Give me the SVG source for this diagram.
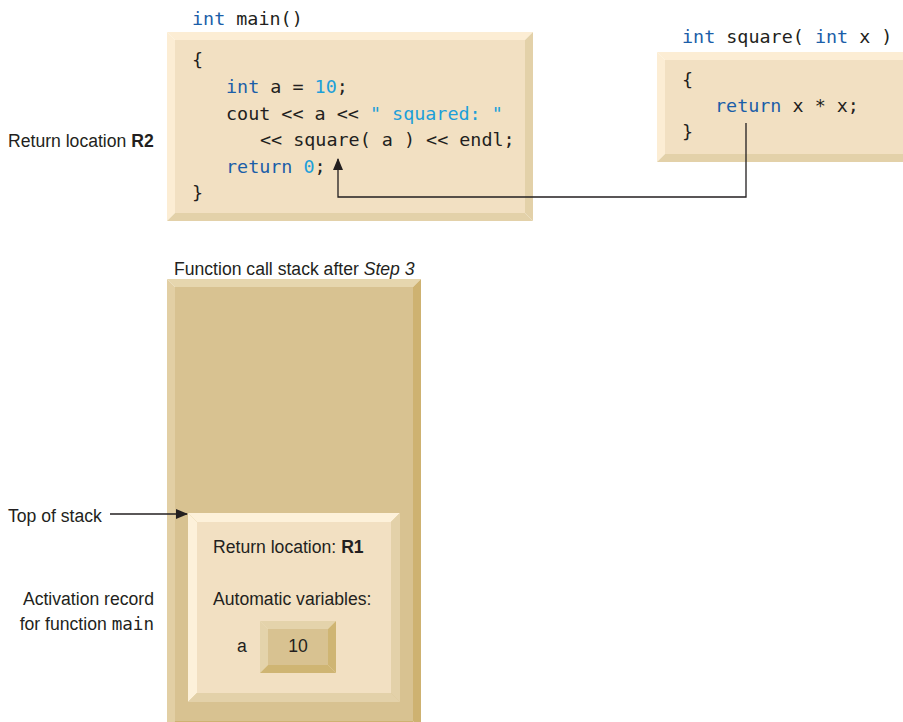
<svg xmlns="http://www.w3.org/2000/svg" width="903" height="722" viewBox="0 0 903 722">
<style>
.mono{font-family:"DejaVu Sans Mono","Liberation Mono",monospace;font-size:18.4px;fill:#231f20}
.kw{fill:#1b5ea8}
.lit{fill:#1d9fd9}
.lbl{font-family:"Liberation Sans",Arial,sans-serif;font-size:17.6px;fill:#231f20}
.lt{fill:#fcedd4}.fc{fill:#f2e0c2}.dk{fill:#e3d1a9}
.slt{fill:#e6d6ae}.sl2{fill:#e2cfa4}.sfc{fill:#d8c291}.sdk{fill:#ceb271}
.conn{fill:none;stroke:#231f20;stroke-width:1.3}
</style>
<defs>
<marker id="ah" markerWidth="12" markerHeight="10" refX="11" refY="5" orient="auto" markerUnits="userSpaceOnUse">
<path d="M0,0 L12,5 L0,10 z" fill="#231f20"/>
</marker>
</defs>
<rect width="903" height="722" fill="#ffffff"/>

<g id="main-box">
<polygon class="lt" points="167,32 533,32 525,40 175,40"/>
<polygon class="lt" points="167,32 175,40 175,213 167,221"/>
<polygon class="dk" points="533,32 533,221 525,213 525,40"/>
<polygon class="dk" points="167,221 533,221 525,213 175,213"/>
<rect class="fc" x="175" y="40" width="350" height="173"/>
<text class="mono" x="192" y="25"><tspan class="kw">int</tspan> main()</text>
<text class="mono" x="192" y="66">{</text>
<text class="mono" x="226" y="93"><tspan class="kw">int</tspan> a = <tspan class="lit">10</tspan>;</text>
<text class="mono" x="226" y="119.5">cout &lt;&lt; a &lt;&lt; <tspan class="lit">" squared: "</tspan></text>
<text class="mono" x="260" y="146">&lt;&lt; square( a ) &lt;&lt; endl;</text>
<text class="mono" x="226" y="172.5"><tspan class="kw">return</tspan> <tspan class="lit">0</tspan>;</text>
<text class="mono" x="192" y="199">}</text>
</g>

<g id="square-box">
<polygon class="lt" points="657,52 915,52 907,60 665,60"/>
<polygon class="lt" points="657,52 665,60 665,154 657,162"/>
<polygon class="dk" points="657,162 915,162 907,154 665,154"/>
<rect class="fc" x="665" y="60" width="250" height="94"/>
<text class="mono" x="682" y="43"><tspan class="kw">int</tspan> square( <tspan class="kw">int</tspan> x )</text>
<text class="mono" x="682" y="86">{</text>
<text class="mono" x="715" y="112"><tspan class="kw">return</tspan> x * x;</text>
<text class="mono" x="682" y="138">}</text>
</g>

<g id="label-r2">
<text class="lbl" x="8" y="147">Return location <tspan font-weight="bold">R2</tspan></text>
</g>

<g id="stack">
<text class="lbl" x="174" y="275">Function call stack after <tspan font-style="italic">Step 3</tspan></text>
<polygon class="slt" points="167,279 421,279 413,287 175,287"/>
<polygon class="sl2" points="167,279 175,287 175,721 167,729"/>
<polygon class="sdk" points="421,279 421,729 413,721 413,287"/>
<polygon class="sdk" points="167,729 421,729 413,721 175,721"/>
<rect class="sfc" x="175" y="287" width="238" height="434"/>
</g>

<g id="activation-record">
<polygon fill="#fdf1da" points="188,513 400,513 391,522 197,522"/>
<polygon fill="#fdf1da" points="188,513 197,522 197,693 188,702"/>
<polygon class="dk" points="400,513 400,702 391,693 391,522"/>
<polygon class="dk" points="188,702 400,702 391,693 197,693"/>
<rect class="fc" x="197" y="522" width="194" height="171"/>
<text class="lbl" x="213" y="553">Return location: <tspan font-weight="bold">R1</tspan></text>
<text class="lbl" x="213" y="605">Automatic variables:</text>
<text class="lbl" x="237" y="652">a</text>
</g>

<g id="var-a">
<polygon fill="#e4d3ab" points="260,621 336,621 328,629 268,629"/>
<polygon fill="#e4d3ab" points="260,621 268,629 268,665 260,673"/>
<polygon fill="#cfb573" points="336,621 336,673 328,665 328,629"/>
<polygon fill="#cfb573" points="260,673 336,673 328,665 268,665"/>
<rect class="sfc" x="268" y="629" width="60" height="36"/>
<text class="lbl" x="298" y="652" text-anchor="middle">10</text>
</g>

<g id="labels-left">
<text class="lbl" x="8" y="522">Top of stack</text>
<text class="lbl" x="154" y="605" text-anchor="end">Activation record</text>
<text class="lbl" x="154" y="630" text-anchor="end">for function <tspan class="mono" style="font-size:17.6px">main</tspan></text>
</g>

<g id="connectors">
<path class="conn" d="M746,123 L746,197 L338,197 L338,159" marker-end="url(#ah)"/>
<path class="conn" d="M110,514 L187,514" marker-end="url(#ah)"/>
</g>
</svg>
